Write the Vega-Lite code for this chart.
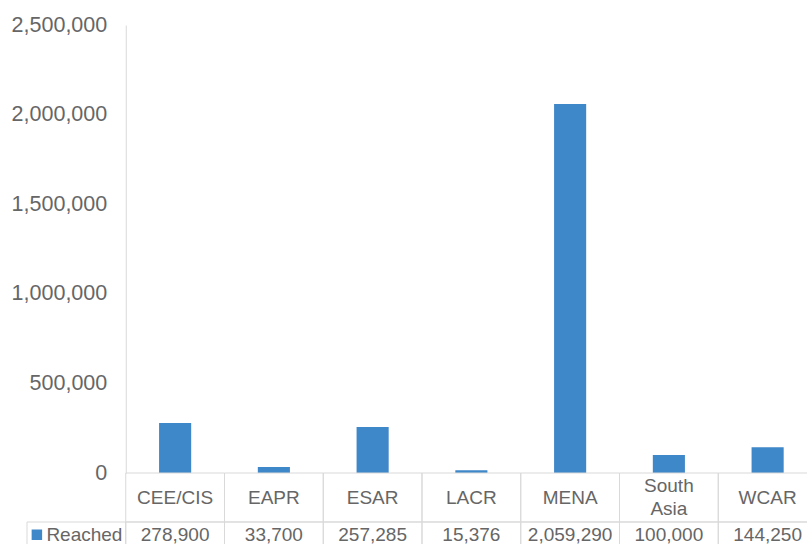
{
  "$schema": "https://vega.github.io/schema/vega-lite/v6.json",
  "autosize": {"type": "pad"},
  "bounds": "flush",
  "padding": {"left": 11, "top": 14, "right": 0, "bottom": 0},
  "config": {"font": "Liberation Sans", "view": {"stroke": null}, "concat": {"spacing": 0}},
  "resolve": {"scale": {"x": "independent", "y": "independent"}, "axis": {"x": "independent", "y": "independent"}},
  "data": {"values": [
    {"region": "CEE/CIS", "reached": 278900},
    {"region": "EAPR", "reached": 33700},
    {"region": "ESAR", "reached": 257285},
    {"region": "LACR", "reached": 15376},
    {"region": "MENA", "reached": 2059290},
    {"region": "South Asia", "reached": 100000},
    {"region": "WCAR", "reached": 144250}
  ]},
  "vconcat": [
    {
      "width": 790,
      "height": 448,
      "mark": {"type": "bar", "color": "#3E87C8", "width": {"band": 0.325}},
      "encoding": {
        "x": {"field": "region", "type": "nominal", "sort": null,
              "scale": {"domain": [" ", "CEE/CIS", "EAPR", "ESAR", "LACR", "MENA", "South Asia", "WCAR"], "paddingInner": 0, "paddingOuter": 0},
              "axis": null},
        "y": {"field": "reached", "type": "quantitative",
              "scale": {"domain": [0, 2500000], "nice": false},
              "axis": {"values": [0, 500000, 1000000, 1500000, 2000000, 2500000], "format": ",d", "offset": -98.75,
                       "domainColor": "#D9D9D9", "ticks": false, "grid": false, "labelFontSize": 21.5,
                       "labelColor": "#666666", "labelPadding": 19, "title": null}}
      }
    },
    {
      "width": 790,
      "height": 98,
      "encoding": {
        "x": {"field": "region", "type": "nominal", "sort": null,
              "scale": {"domain": [" ", "CEE/CIS", "EAPR", "ESAR", "LACR", "MENA", "South Asia", "WCAR"], "paddingInner": 0, "paddingOuter": 0},
              "axis": null}
      },
      "layer": [
        {
          "mark": {"type": "rect", "fill": "transparent", "stroke": "#D9D9D9", "strokeWidth": 1},
          "encoding": {"y": {"datum": "cat", "type": "nominal", "scale": {"domain": ["cat", "val"], "paddingInner": 0, "paddingOuter": 0}, "axis": null}}
        },
        {
          "mark": {"type": "rect", "fill": "transparent", "stroke": "#D9D9D9", "strokeWidth": 1},
          "encoding": {"y": {"datum": "val", "type": "nominal", "axis": null}}
        },
        {
          "transform": [{"filter": "indexof(datum.region, ' ') < 0"}],
          "mark": {"type": "text", "fontSize": 19, "color": "#666666", "baseline": "middle"},
          "encoding": {
            "y": {"datum": "cat", "type": "nominal", "axis": null},
            "text": {"field": "region"}
          }
        },
        {
          "transform": [{"filter": "indexof(datum.region, ' ') >= 0"}],
          "mark": {"type": "text", "fontSize": 19, "color": "#666666", "lineBreak": " ", "lineHeight": 23, "baseline": "middle", "dy": -11.5},
          "encoding": {
            "y": {"datum": "cat", "type": "nominal", "axis": null},
            "text": {"field": "region"}
          }
        },
        {
          "mark": {"type": "text", "fontSize": 19, "color": "#666666", "baseline": "middle"},
          "encoding": {
            "y": {"datum": "val", "type": "nominal", "axis": null, "bandPosition": 0.26},
            "text": {"field": "reached", "type": "quantitative", "format": ",d"}
          }
        },
        {
          "data": {"values": [{"region": " ", "label": "Reached"}]},
          "layer": [
            {
              "mark": {"type": "rect", "fill": "transparent", "stroke": "#D9D9D9", "strokeWidth": 1},
              "encoding": {"y": {"datum": "val", "type": "nominal", "axis": null}}
            },
            {
              "mark": {"type": "text", "fontSize": 19, "color": "#666666", "baseline": "middle", "align": "left", "dx": -30},
              "encoding": {
                "y": {"datum": "val", "type": "nominal", "axis": null, "bandPosition": 0.26},
                "text": {"field": "label"}
              }
            },
            {
              "mark": {"type": "square", "color": "#3E87C8", "opacity": 1, "size": 110, "xOffset": -39.5},
              "encoding": {
                "y": {"datum": "val", "type": "nominal", "axis": null, "bandPosition": 0.26}
              }
            }
          ]
        }
      ]
    }
  ]
}
